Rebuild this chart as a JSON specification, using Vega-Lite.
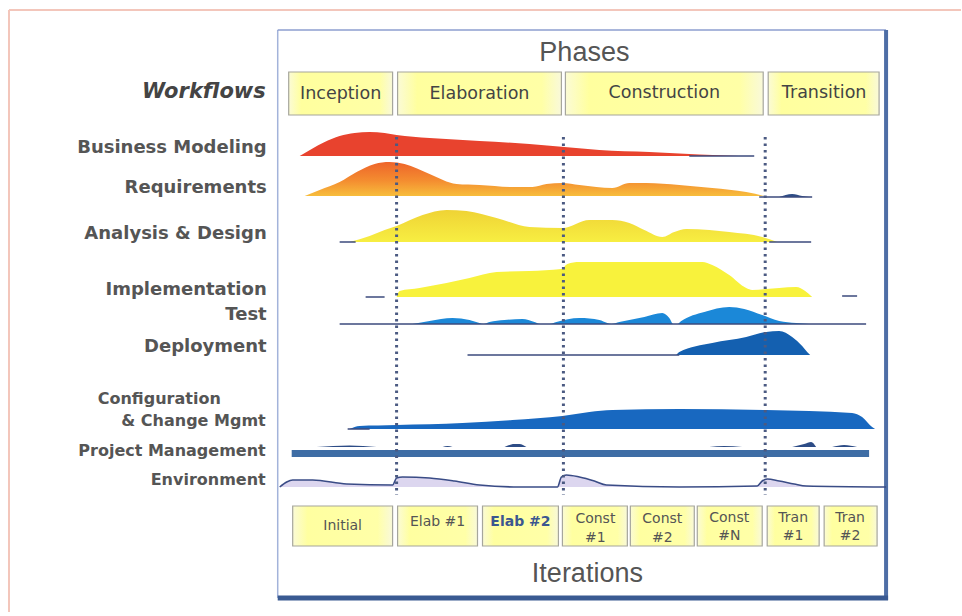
{
  "$schema": "https://vega.github.io/schema/vega-lite/v6.json",
  "width": 962,
  "height": 616,
  "autosize": {"type": "fit", "contains": "padding"},
  "padding": 0,
  "background": "#ffffff",
  "config": {"view": {"stroke": null}},
  "encoding": {
    "x": {"field": "x", "type": "quantitative", "scale": {"domain": [0, 962], "nice": false, "zero": false}, "axis": null},
    "y": {"field": "y", "type": "quantitative", "scale": {"domain": [0, 616], "reverse": true, "nice": false, "zero": false}, "axis": null}
  },
  "layer": [
    {"data": {"values": [{"x": 9, "x2": 962, "y": 10}]}, "mark": {"type": "rule", "color": "#f3c6bb", "strokeWidth": 2}, "encoding": {"x2": {"field": "x2"}}},
    {"data": {"values": [{"x": 9, "y": 10, "y2": 612}]}, "mark": {"type": "rule", "color": "#f3c6bb", "strokeWidth": 2}, "encoding": {"y2": {"field": "y2"}}},
    {"data": {"values": [{"x": 278, "y": 30, "y2": 598}]}, "mark": {"type": "rule", "color": "#a3b3da", "strokeWidth": 1.5}, "encoding": {"y2": {"field": "y2"}}},
    {"data": {"values": [{"x": 278, "x2": 887, "y": 30}]}, "mark": {"type": "rule", "color": "#8d9ecf", "strokeWidth": 1.5}, "encoding": {"x2": {"field": "x2"}}},
    {"data": {"values": [{"x": 887, "y": 30, "y2": 600}]}, "mark": {"type": "rule", "color": "#4e6ea6", "strokeWidth": 4}, "encoding": {"y2": {"field": "y2"}}},
    {"data": {"values": [{"x": 278, "x2": 889, "y": 598}]}, "mark": {"type": "rule", "color": "#3a5a92", "strokeWidth": 5}, "encoding": {"x2": {"field": "x2"}}},
    {
      "data": {"values": [
        {"x": 289, "x2": 393, "y": 72, "y2": 115},
        {"x": 398, "x2": 562, "y": 72, "y2": 115},
        {"x": 566, "x2": 764, "y": 72, "y2": 115},
        {"x": 769, "x2": 880, "y": 72, "y2": 115}
      ]},
      "mark": {"type": "rect", "stroke": "#a6a69c", "strokeWidth": 1.2,
        "fill": {"gradient": "linear", "x1": 0, "y1": 0, "x2": 1, "y2": 0, "stops": [
          {"offset": 0, "color": "#fbfbd6"}, {"offset": 0.12, "color": "#ffff9e"}, {"offset": 0.88, "color": "#ffffa6"}, {"offset": 1, "color": "#f9f9da"}]}},
      "encoding": {"x2": {"field": "x2"}, "y2": {"field": "y2"}}
    },
    {
      "data": {"values": [
        {"x": 300, "y": 156, "b": 156}, {"x": 312, "y": 149, "b": 156}, {"x": 325, "y": 142, "b": 156}, {"x": 340, "y": 136, "b": 156},
        {"x": 355, "y": 133, "b": 156}, {"x": 370, "y": 132, "b": 156}, {"x": 385, "y": 133, "b": 156}, {"x": 397, "y": 135, "b": 156},
        {"x": 430, "y": 138, "b": 156}, {"x": 480, "y": 141, "b": 156}, {"x": 530, "y": 144, "b": 156}, {"x": 565, "y": 147, "b": 156},
        {"x": 600, "y": 150, "b": 156}, {"x": 650, "y": 152, "b": 156}, {"x": 700, "y": 154.5, "b": 156}, {"x": 740, "y": 156, "b": 156}
      ]},
      "mark": {"type": "area", "interpolate": "monotone", "color": "#e8432e"},
      "encoding": {"y2": {"field": "b"}}
    },
    {
      "data": {"values": [
        {"x": 305, "y": 196, "b": 196}, {"x": 320, "y": 190, "b": 196}, {"x": 340, "y": 182, "b": 196}, {"x": 357, "y": 172, "b": 196},
        {"x": 375, "y": 164, "b": 196}, {"x": 390, "y": 162, "b": 196}, {"x": 405, "y": 164, "b": 196}, {"x": 430, "y": 174, "b": 196},
        {"x": 457, "y": 184, "b": 196}, {"x": 480, "y": 185, "b": 196}, {"x": 513, "y": 187, "b": 196}, {"x": 533, "y": 187, "b": 196},
        {"x": 547, "y": 184, "b": 196}, {"x": 563, "y": 183, "b": 196}, {"x": 580, "y": 185, "b": 196}, {"x": 597, "y": 187, "b": 196},
        {"x": 613, "y": 188, "b": 196}, {"x": 630, "y": 183, "b": 196}, {"x": 647, "y": 183, "b": 196}, {"x": 680, "y": 185, "b": 196},
        {"x": 713, "y": 188, "b": 196}, {"x": 747, "y": 192, "b": 196}, {"x": 765, "y": 196, "b": 196}
      ]},
      "mark": {"type": "area", "interpolate": "monotone",
        "color": {"gradient": "linear", "x1": 0, "y1": 0, "x2": 0, "y2": 1, "stops": [
          {"offset": 0, "color": "#ee642a"}, {"offset": 0.55, "color": "#f48d30"}, {"offset": 1, "color": "#f7bd3c"}]}},
      "encoding": {"y2": {"field": "b"}}
    },
    {
      "data": {"values": [
        {"x": 350, "y": 242, "b": 242}, {"x": 370, "y": 236, "b": 242}, {"x": 385, "y": 230, "b": 242}, {"x": 397, "y": 226, "b": 242},
        {"x": 423, "y": 215, "b": 242}, {"x": 447, "y": 210, "b": 242}, {"x": 467, "y": 211, "b": 242}, {"x": 497, "y": 218, "b": 242},
        {"x": 530, "y": 227, "b": 242}, {"x": 563, "y": 228, "b": 242}, {"x": 590, "y": 220, "b": 242}, {"x": 613, "y": 220, "b": 242},
        {"x": 630, "y": 223, "b": 242}, {"x": 645, "y": 230, "b": 242}, {"x": 663, "y": 237, "b": 242}, {"x": 675, "y": 232, "b": 242},
        {"x": 687, "y": 229, "b": 242}, {"x": 710, "y": 230, "b": 242}, {"x": 730, "y": 232, "b": 242}, {"x": 763, "y": 237, "b": 242},
        {"x": 778, "y": 242, "b": 242}
      ]},
      "mark": {"type": "area", "interpolate": "monotone",
        "color": {"gradient": "linear", "x1": 0, "y1": 0, "x2": 0, "y2": 1, "stops": [
          {"offset": 0, "color": "#efd335"}, {"offset": 1, "color": "#f7ee42"}]}},
      "encoding": {"y2": {"field": "b"}}
    },
    {
      "data": {"values": [
        {"x": 397, "y": 297, "b": 297}, {"x": 400, "y": 291, "b": 297}, {"x": 420, "y": 288, "b": 297}, {"x": 447, "y": 283, "b": 297},
        {"x": 470, "y": 278, "b": 297}, {"x": 497, "y": 272, "b": 297}, {"x": 530, "y": 271, "b": 297}, {"x": 562, "y": 269, "b": 297},
        {"x": 568, "y": 264, "b": 297}, {"x": 580, "y": 262, "b": 297}, {"x": 703, "y": 262, "b": 297}, {"x": 713, "y": 265, "b": 297},
        {"x": 730, "y": 275, "b": 297}, {"x": 747, "y": 288, "b": 297}, {"x": 753, "y": 290, "b": 297}, {"x": 767, "y": 289, "b": 297},
        {"x": 780, "y": 288, "b": 297}, {"x": 797, "y": 287, "b": 297}, {"x": 806, "y": 291, "b": 297}, {"x": 813, "y": 297, "b": 297}
      ]},
      "mark": {"type": "area", "interpolate": "monotone", "color": "#f8f23c"},
      "encoding": {"y2": {"field": "b"}}
    },
    {
      "data": {"values": [
        {"x": 413, "y": 324, "b": 324}, {"x": 430, "y": 321, "b": 324}, {"x": 453, "y": 318, "b": 324}, {"x": 470, "y": 320, "b": 324},
        {"x": 480, "y": 323, "b": 324}, {"x": 484, "y": 324, "b": 324}, {"x": 490, "y": 322, "b": 324}, {"x": 505, "y": 320, "b": 324},
        {"x": 523, "y": 319, "b": 324}, {"x": 535, "y": 322, "b": 324}, {"x": 541, "y": 324, "b": 324}, {"x": 550, "y": 324, "b": 324},
        {"x": 557, "y": 322, "b": 324}, {"x": 580, "y": 318, "b": 324}, {"x": 600, "y": 320, "b": 324}, {"x": 608, "y": 323, "b": 324},
        {"x": 612, "y": 324, "b": 324}, {"x": 620, "y": 322, "b": 324}, {"x": 645, "y": 317, "b": 324}, {"x": 663, "y": 313, "b": 324},
        {"x": 670, "y": 318, "b": 324}, {"x": 674, "y": 324, "b": 324}, {"x": 678, "y": 324, "b": 324}, {"x": 682, "y": 321, "b": 324},
        {"x": 705, "y": 312, "b": 324}, {"x": 730, "y": 307, "b": 324}, {"x": 745, "y": 309, "b": 324}, {"x": 763, "y": 315, "b": 324},
        {"x": 780, "y": 321, "b": 324}, {"x": 797, "y": 323, "b": 324}, {"x": 810, "y": 324, "b": 324}
      ]},
      "mark": {"type": "area", "interpolate": "monotone", "color": "#1b88d8"},
      "encoding": {"y2": {"field": "b"}}
    },
    {
      "data": {"values": [
        {"x": 677, "y": 355, "b": 355}, {"x": 680, "y": 352, "b": 355}, {"x": 713, "y": 343, "b": 355}, {"x": 747, "y": 337, "b": 355},
        {"x": 767, "y": 332, "b": 355}, {"x": 780, "y": 331, "b": 355}, {"x": 793, "y": 337, "b": 355}, {"x": 803, "y": 346, "b": 355},
        {"x": 808, "y": 352, "b": 355}, {"x": 811, "y": 355, "b": 355}
      ]},
      "mark": {"type": "area", "interpolate": "monotone", "color": "#1460b0"},
      "encoding": {"y2": {"field": "b"}}
    },
    {
      "data": {"values": [
        {"x": 350, "y": 429, "b": 429}, {"x": 360, "y": 426, "b": 429}, {"x": 397, "y": 425, "b": 429}, {"x": 463, "y": 423, "b": 429},
        {"x": 513, "y": 420, "b": 429}, {"x": 563, "y": 416, "b": 429}, {"x": 590, "y": 412, "b": 429}, {"x": 613, "y": 410, "b": 429},
        {"x": 680, "y": 409, "b": 429}, {"x": 767, "y": 410, "b": 429}, {"x": 853, "y": 413, "b": 429}, {"x": 863, "y": 417, "b": 429},
        {"x": 873, "y": 427, "b": 429}, {"x": 876, "y": 429, "b": 429}
      ]},
      "mark": {"type": "area", "interpolate": "monotone", "color": "#1868c0"},
      "encoding": {"y2": {"field": "b"}}
    },
    {
      "data": {"values": [
        {"x": 280, "y": 487, "b": 487}, {"x": 287, "y": 482, "b": 487}, {"x": 293, "y": 480, "b": 487}, {"x": 313, "y": 480, "b": 487},
        {"x": 347, "y": 484, "b": 487}, {"x": 393, "y": 485, "b": 487}, {"x": 397, "y": 478, "b": 487}, {"x": 403, "y": 477, "b": 487},
        {"x": 430, "y": 478, "b": 487}, {"x": 455, "y": 481, "b": 487}, {"x": 480, "y": 485, "b": 487}, {"x": 520, "y": 487, "b": 487},
        {"x": 558, "y": 487, "b": 487}, {"x": 562, "y": 477, "b": 487}, {"x": 567, "y": 475, "b": 487}, {"x": 580, "y": 477, "b": 487},
        {"x": 595, "y": 481, "b": 487}, {"x": 607, "y": 485, "b": 487}, {"x": 680, "y": 487, "b": 487}, {"x": 758, "y": 486, "b": 487},
        {"x": 763, "y": 481, "b": 487}, {"x": 768, "y": 479, "b": 487}, {"x": 780, "y": 481, "b": 487}, {"x": 795, "y": 484, "b": 487},
        {"x": 807, "y": 486, "b": 487}, {"x": 887, "y": 487, "b": 487}
      ]},
      "mark": {"type": "area", "interpolate": "monotone", "color": "#cdc4e8", "line": {"color": "#3a4c86", "strokeWidth": 1.6}},
      "encoding": {"y2": {"field": "b"}}
    },
    {
      "data": {"values": [
        {"s": "a", "x": 317, "y": 447, "b": 447}, {"s": "a", "x": 350, "y": 445.5, "b": 447}, {"s": "a", "x": 377, "y": 447, "b": 447},
        {"s": "b", "x": 443, "y": 447, "b": 447}, {"s": "b", "x": 448, "y": 446, "b": 447}, {"s": "b", "x": 453, "y": 447, "b": 447},
        {"s": "c", "x": 505, "y": 447, "b": 447}, {"s": "c", "x": 515, "y": 444, "b": 447}, {"s": "c", "x": 520, "y": 444, "b": 447}, {"s": "c", "x": 527, "y": 447, "b": 447},
        {"s": "d", "x": 710, "y": 447, "b": 447}, {"s": "d", "x": 725, "y": 446, "b": 447}, {"s": "d", "x": 743, "y": 447, "b": 447},
        {"s": "e", "x": 793, "y": 447, "b": 447}, {"s": "e", "x": 805, "y": 444, "b": 447}, {"s": "e", "x": 812, "y": 442, "b": 447}, {"s": "e", "x": 817, "y": 447, "b": 447},
        {"s": "f", "x": 833, "y": 447, "b": 447}, {"s": "f", "x": 845, "y": 445, "b": 447}, {"s": "f", "x": 858, "y": 447, "b": 447},
        {"s": "r", "x": 780, "y": 197, "b": 197}, {"s": "r", "x": 793, "y": 194, "b": 197}, {"s": "r", "x": 803, "y": 196, "b": 197}, {"s": "r", "x": 810, "y": 197, "b": 197}
      ]},
      "mark": {"type": "area", "interpolate": "monotone", "color": "#2d4c86"},
      "encoding": {"y2": {"field": "b"}, "detail": {"field": "s", "type": "nominal"}}
    },
    {
      "data": {"values": [
        {"x": 690, "x2": 755, "y": 156}, {"x": 760, "x2": 813, "y": 197}, {"x": 340, "x2": 356, "y": 242}, {"x": 770, "x2": 812, "y": 242},
        {"x": 366, "x2": 385, "y": 297}, {"x": 843, "x2": 858, "y": 296}, {"x": 340, "x2": 867, "y": 324}, {"x": 468, "x2": 680, "y": 355},
        {"x": 348, "x2": 370, "y": 429}
      ]},
      "mark": {"type": "rule", "color": "#3b4a7c", "strokeWidth": 1.5},
      "encoding": {"x2": {"field": "x2"}}
    },
    {
      "data": {"values": [{"x": 292, "x2": 870, "y": 450, "y2": 457}]},
      "mark": {"type": "rect", "color": "#3e6da5"},
      "encoding": {"x2": {"field": "x2"}, "y2": {"field": "y2"}}
    },
    {
      "data": {"values": [{"x": 397, "y": 137, "y2": 495}, {"x": 564, "y": 137, "y2": 495}, {"x": 766, "y": 137, "y2": 495}]},
      "mark": {"type": "rule", "color": "#4b5a82", "strokeWidth": 3, "strokeDash": [2.5, 4]},
      "encoding": {"y2": {"field": "y2"}}
    },
    {
      "data": {"values": [
        {"x": 293, "x2": 393, "y": 506, "y2": 546}, {"x": 398, "x2": 478, "y": 506, "y2": 546}, {"x": 483, "x2": 559, "y": 506, "y2": 546},
        {"x": 563, "x2": 628, "y": 506, "y2": 546}, {"x": 631, "x2": 695, "y": 506, "y2": 546}, {"x": 698, "x2": 763, "y": 506, "y2": 546},
        {"x": 768, "x2": 820, "y": 506, "y2": 546}, {"x": 825, "x2": 878, "y": 506, "y2": 546}
      ]},
      "mark": {"type": "rect", "stroke": "#a6a69c", "strokeWidth": 1.2,
        "fill": {"gradient": "linear", "x1": 0, "y1": 0, "x2": 1, "y2": 0, "stops": [
          {"offset": 0, "color": "#fbfbd6"}, {"offset": 0.15, "color": "#ffffa0"}, {"offset": 0.85, "color": "#ffffa8"}, {"offset": 1, "color": "#f9f9da"}]}},
      "encoding": {"x2": {"field": "x2"}, "y2": {"field": "y2"}}
    },
    {
      "data": {"values": [{"t": "Phases", "x": 585, "y": 53}, {"t": "Iterations", "x": 588, "y": 574}]},
      "mark": {"type": "text", "font": "Liberation Sans", "fontSize": 27, "color": "#555555", "align": "center", "baseline": "middle"},
      "encoding": {"text": {"field": "t"}}
    },
    {
      "data": {"values": [{"t": "Workflows", "x": 266, "y": 92}]},
      "mark": {"type": "text", "font": "DejaVu Sans", "fontSize": 21, "fontWeight": "bold", "fontStyle": "italic", "color": "#444444", "align": "right", "baseline": "middle"},
      "encoding": {"text": {"field": "t"}}
    },
    {
      "data": {"values": [
        {"t": "Business Modeling", "x": 267, "y": 148}, {"t": "Requirements", "x": 267, "y": 188},
        {"t": "Analysis & Design", "x": 267, "y": 234}, {"t": "Implementation", "x": 267, "y": 290},
        {"t": "Test", "x": 267, "y": 315}, {"t": "Deployment", "x": 267, "y": 347}
      ]},
      "mark": {"type": "text", "font": "DejaVu Sans", "fontSize": 18, "fontWeight": "bold", "color": "#555555", "align": "right", "baseline": "middle"},
      "encoding": {"text": {"field": "t"}}
    },
    {
      "data": {"values": [
        {"t": "Configuration", "x": 221, "y": 399}, {"t": "& Change Mgmt", "x": 266, "y": 421},
        {"t": "Project Management", "x": 266, "y": 451}, {"t": "Environment", "x": 266, "y": 480}
      ]},
      "mark": {"type": "text", "font": "DejaVu Sans", "fontSize": 16, "fontWeight": "bold", "color": "#555555", "align": "right", "baseline": "middle"},
      "encoding": {"text": {"field": "t"}}
    },
    {
      "data": {"values": [
        {"t": "Inception", "x": 341, "y": 94}, {"t": "Elaboration", "x": 480, "y": 94},
        {"t": "Construction", "x": 665, "y": 93}, {"t": "Transition", "x": 825, "y": 93}
      ]},
      "mark": {"type": "text", "font": "DejaVu Sans", "fontSize": 17.5, "color": "#444444", "align": "center", "baseline": "middle"},
      "encoding": {"text": {"field": "t"}}
    },
    {
      "data": {"values": [
        {"t": "Initial", "x": 343, "y": 526}, {"t": "Elab #1", "x": 438, "y": 522},
        {"t": "Const", "x": 596, "y": 519}, {"t": "#1", "x": 596, "y": 538},
        {"t": "Const", "x": 663, "y": 519}, {"t": "#2", "x": 663, "y": 538},
        {"t": "Const", "x": 730, "y": 518}, {"t": "#N", "x": 730, "y": 536},
        {"t": "Tran", "x": 794, "y": 518}, {"t": "#1", "x": 794, "y": 536},
        {"t": "Tran", "x": 851, "y": 518}, {"t": "#2", "x": 851, "y": 536}
      ]},
      "mark": {"type": "text", "font": "DejaVu Sans", "fontSize": 14, "color": "#555555", "align": "center", "baseline": "middle"},
      "encoding": {"text": {"field": "t"}}
    },
    {
      "data": {"values": [{"t": "Elab #2", "x": 521, "y": 522}]},
      "mark": {"type": "text", "font": "DejaVu Sans", "fontSize": 14, "fontWeight": "bold", "color": "#3b5790", "align": "center", "baseline": "middle"},
      "encoding": {"text": {"field": "t"}}
    }
  ]
}
